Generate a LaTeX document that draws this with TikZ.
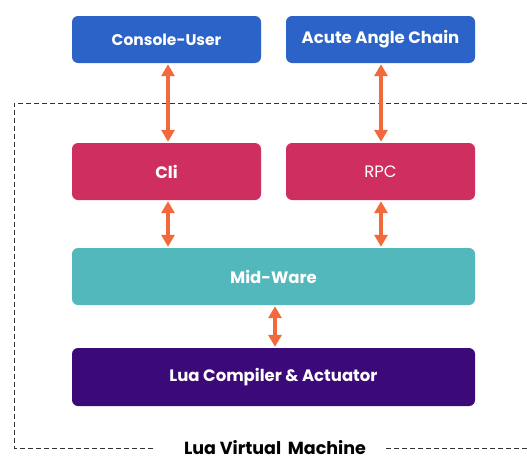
\documentclass[tikz,border=0pt]{standalone}
\usepackage{fontspec}
\setmainfont{Poppins}
\usetikzlibrary{arrows.meta}
\definecolor{cblue}{HTML}{2B63C8}
\definecolor{ccrim}{HTML}{CF2F5E}
\definecolor{cteal}{HTML}{52B8BB}
\definecolor{cpurp}{HTML}{3C0A78}
\definecolor{corange}{HTML}{F26A3B}
\begin{document}
\begin{tikzpicture}[x=1pt,y=-1pt,
  box/.style={rounded corners=6pt, minimum height=#1, text=white, font=\fontsize{16.5}{18}\selectfont\bfseries, inner sep=0pt},
  dbl/.style={corange, line width=4.5pt, {Triangle[width=13pt,length=12pt]}-{Triangle[width=13pt,length=12pt]}, shorten <=1pt, shorten >=1pt},
  dashline/.style={line width=0.8pt, black!80, dash pattern=on 5pt off 3pt}]
\useasboundingbox (0,0) rectangle (527,455);
\node[box=47pt, fill=cblue, minimum width=189pt, font=\fontsize{15.5}{17}\selectfont\bfseries] (cu) at (166.5,39.5) {Console-User};
\node[box=47pt, fill=cblue, minimum width=189pt] (ac) at (380.5,39.5) {Acute Angle Chain};
\node[box=57pt, fill=ccrim, minimum width=189pt] (cli) at (166.5,171.5) {Cli};
\node[box=57pt, fill=ccrim, minimum width=189pt, font=\fontsize{16.5}{18}\selectfont] (rpc) at (380.5,171.5) {RPC};
\node[box=57pt, fill=cteal, minimum width=403pt] (mw) at (273.5,276.5) {Mid-Ware};
\node[box=58pt, fill=cpurp, minimum width=403pt] (lua) at (273.5,377) {Lua Compiler \& Actuator};
\node[font=\fontsize{17.5}{19}\selectfont\bfseries, anchor=base, inner sep=0pt] (lvm) at (275,454) {Lua Virtual\, Machine};
\coordinate (tr) at (527,103);
\coordinate (tl) at (14,103);
\coordinate (bl) at (14,448);
\coordinate (br) at (527,448);
\draw[dashline] (tr) -- (tl) -- (bl) -- ([xshift=-28pt]lvm.west |- bl);
\draw[dashline] (br) -- ([xshift=18pt]lvm.east |- br);
\draw[dbl] (cli.north -| 168,0) -- (cu.south -| 168,0);
\draw[dbl] (rpc.north -| 381,0) -- (ac.south -| 381,0);
\draw[dbl] (cli.south -| 168,0) -- (mw.north -| 168,0);
\draw[dbl] (rpc.south -| 381,0) -- (mw.north -| 381,0);
\draw[dbl] (mw.south -| 275,0) -- (lua.north -| 275,0);
\end{tikzpicture}
\end{document}
